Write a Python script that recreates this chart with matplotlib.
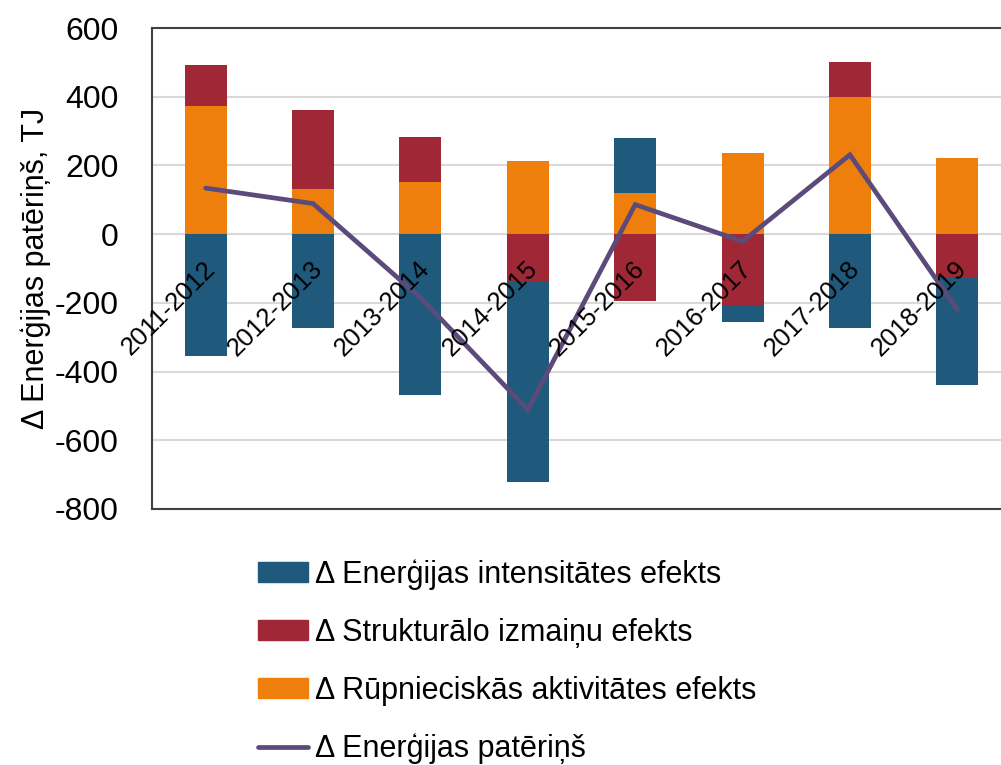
import matplotlib
matplotlib.use("Agg")
import matplotlib.pyplot as plt
from matplotlib import font_manager
from matplotlib.patches import Patch
from matplotlib.lines import Line2D
from matplotlib.ticker import FuncFormatter
import matplotlib.transforms as mtransforms

# narrow sans face if present, plain Liberation Sans otherwise
names = {f.name for f in font_manager.fontManager.ttflist}
FONT = "Liberation Sans Narrow" if "Liberation Sans Narrow" in names else "Liberation Sans"
plt.rcParams["font.family"] = [FONT, "DejaVu Sans"]

periods = ["2011-2012", "2012-2013", "2013-2014", "2014-2015",
           "2015-2016", "2016-2017", "2017-2018", "2018-2019"]
intensity = [-356, -273, -469, -581, 159, -50, -272, -312]
structural = [119, 232, 132, -140, -194, -207, 102, -126]
activity = [372, 130, 152, 212, 121, 237, 399, 221]
consumption = [134, 89, -185, -511, 86, -21, 231, -220]

C_BLUE = "#1F5A7C"
C_RED = "#A02836"
C_ORANGE = "#EF7F0C"
C_PURPLE = "#5C4A7A"

fig = plt.figure(figsize=(10.01, 7.65), dpi=100)
ax = fig.add_axes([152 / 1001, 1 - 509 / 765, 859 / 1001, 481 / 765])

x = list(range(len(periods)))
width = 0.39

# stack order: activity, structural, intensity (positives up, negatives down)
pos_base = [0] * len(x)
neg_base = [0] * len(x)
for vals, col in [(activity, C_ORANGE), (structural, C_RED), (intensity, C_BLUE)]:
    bottoms = []
    for i, v in enumerate(vals):
        if v >= 0:
            bottoms.append(pos_base[i])
            pos_base[i] += v
        else:
            bottoms.append(neg_base[i])
            neg_base[i] += v
    ax.bar(x, vals, width, bottom=bottoms, color=col, zorder=2)

ax.plot(x, consumption, color=C_PURPLE, lw=3.4, solid_capstyle="round",
        solid_joinstyle="miter", zorder=3)

ax.set_xlim(-0.5, 7.5)
ax.set_ylim(-800, 600)
ax.set_yticks(range(-800, 601, 200))
ax.yaxis.set_major_formatter(FuncFormatter(lambda v, p: f"{v:.0f}"))
ax.yaxis.grid(True, color="#D9D9D9", lw=1.5, zorder=0)
ax.set_axisbelow(True)
ax.tick_params(axis="y", length=0, pad=24, labelsize=23)
ax.set_xticks([])
for s in ax.spines.values():
    s.set_color("#404040")
    s.set_linewidth(1.5)

ax.set_ylabel("\u0394 Enerģijas patēriņš, TJ", fontsize=22)
ax.yaxis.set_label_coords(-0.118, 0.5)

# period labels sit just below the zero line
offset = mtransforms.ScaledTranslation(-2 / 72, -16 / 72, fig.dpi_scale_trans)
for i, lab in enumerate(periods):
    ax.text(i, 0, lab, rotation=45, rotation_mode="anchor", ha="right",
            va="top", fontsize=18.5, transform=ax.transData + offset, zorder=4)

handles = [
    Patch(color=C_BLUE, label="\u0394 Enerģijas intensitātes efekts"),
    Patch(color=C_RED, label="\u0394 Strukturālo izmaiņu efekts"),
    Patch(color=C_ORANGE, label="\u0394 Rūpnieciskās aktivitātes efekts"),
    Line2D([], [], color=C_PURPLE, lw=3.4, solid_capstyle="round",
           label="\u0394 Enerģijas patēriņš"),
]
fig.legend(handles=handles, loc="upper left", bbox_to_anchor=(258 / 1001, 1 - 559 / 765),
           frameon=False, fontsize=22, handlelength=1.65, handleheight=0.65,
           handletextpad=0.2, labelspacing=0.92, borderpad=0, borderaxespad=0)

fig.savefig("out.png", dpi=100)
